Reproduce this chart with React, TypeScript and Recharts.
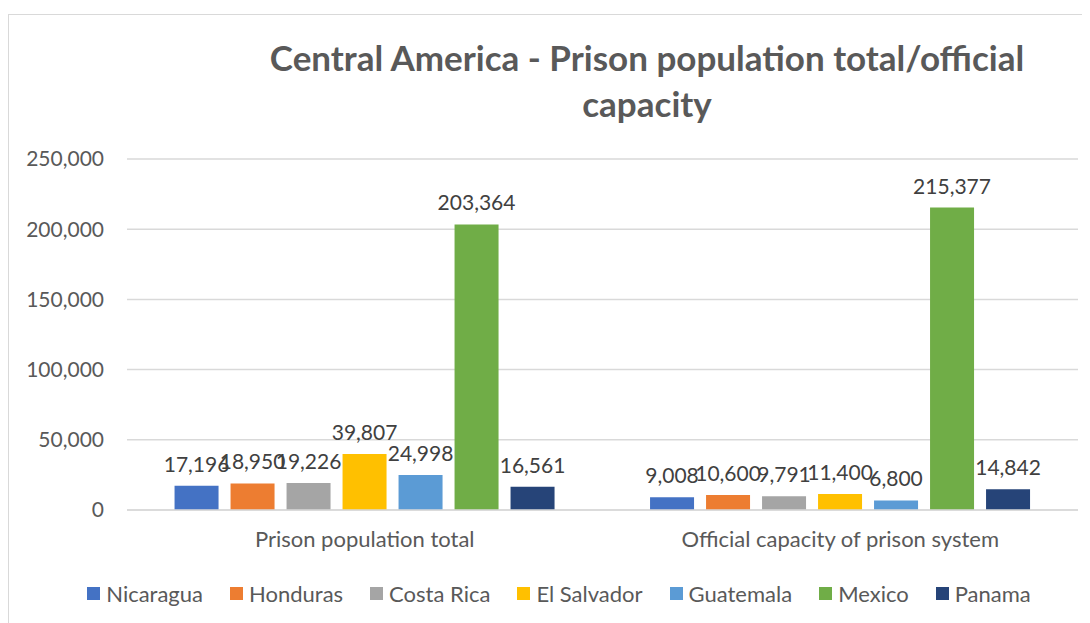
import React from "react";
import { BarChart, Bar, XAxis, YAxis, CartesianGrid, LabelList } from "recharts";

const categories = ["Prison population total", "Official capacity of prison system"];
const countries = ["Nicaragua", "Honduras", "Costa Rica", "El Salvador", "Guatemala", "Mexico", "Panama"];
const nicaragua = [17196, 9008];
const honduras = [18950, 10600];
const costaRica = [19226, 9791];
const elSalvador = [39807, 11400];
const guatemala = [24998, 6800];
const mexico = [203364, 215377];
const panama = [16561, 14842];
const yTicks = [0, 50000, 100000, 150000, 200000, 250000];
const colors = ["#4472C4", "#ED7D31", "#A5A5A5", "#FFC000", "#5B9BD5", "#70AD47", "#264478"];

const seriesValues = [nicaragua, honduras, costaRica, elSalvador, guatemala, mexico, panama];
const data = categories.map((c, i) => {
  const row: Record<string, any> = { name: c };
  countries.forEach((k, j) => {
    row[k] = seriesValues[j][i];
  });
  return row;
});

const FONT = "Lato, 'Open Sans', sans-serif";
const fmt = (v: number) => v.toLocaleString("en-US");

export default function App() {
  return (
    <div style={{ position: "relative", width: 1082, height: 615, background: "#fff" }}>
      <div
        style={{
          position: "absolute",
          left: 0,
          top: 6,
          width: 1082,
          height: 620,
          borderTop: "1px solid #d9d9d9",
          borderLeft: "1px solid #d9d9d9",
          boxSizing: "border-box",
        }}
      />
      <div
        style={{
          position: "absolute",
          left: 39,
          width: 1200,
          top: 26,
          textAlign: "center",
          fontFamily: FONT,
          fontWeight: "bold",
          fontSize: 35,
          lineHeight: "46px",
          color: "#595959",
        }}
      >
        <div style={{ width: 820, margin: "0 auto" }}>Central America - Prison population total/official capacity</div>
      </div>
      <BarChart
        width={1082}
        height={615}
        data={data}
        margin={{ top: 151, right: 12, left: 19, bottom: 83 }}
        barCategoryGap="10%"
        barGap={12}
        style={{ position: "absolute", left: 0, top: 0 }}
      >
        <CartesianGrid vertical={false} stroke="#d9d9d9" strokeWidth={1.5} />
        <XAxis
          dataKey="name"
          height={30}
          tickSize={0}
          tickMargin={21}
          axisLine={{ stroke: "#d9d9d9", strokeWidth: 1.5 }}
          tick={{ fill: "#595959", fontSize: 22, fontFamily: FONT }}
        />
        <YAxis
          width={100}
          domain={[0, 250000]}
          ticks={yTicks}
          tickFormatter={fmt}
          axisLine={false}
          tickSize={0}
          tickMargin={23}
          tick={{ fill: "#595959", fontSize: 21, fontFamily: FONT }}
        />
        {countries.map((k, j) => (
          <Bar key={k} dataKey={k} fill={colors[j]} isAnimationActive={false}>
            <LabelList
              dataKey={k}
              position="top"
              offset={14}
              formatter={(v: any) => fmt(Number(v))}
              style={{ fill: "#404040", fontSize: 21, fontFamily: FONT }}
            />
          </Bar>
        ))}
      </BarChart>
      <div
        style={{
          position: "absolute",
          left: 0,
          width: 1082,
          top: 570,
          height: 30,
          paddingLeft: 20,
          boxSizing: "border-box",
          display: "flex",
          justifyContent: "center",
          alignItems: "center",
          fontFamily: FONT,
          fontSize: 22,
          color: "#595959",
        }}
      >
        {countries.map((k, j) => (
          <div key={k} style={{ display: "flex", alignItems: "center", margin: "0 13.5px" }}>
            <span style={{ width: 13, height: 13, background: colors[j], display: "inline-block", marginRight: 6 }} />
            <span>{k}</span>
          </div>
        ))}
      </div>
    </div>
  );
}
